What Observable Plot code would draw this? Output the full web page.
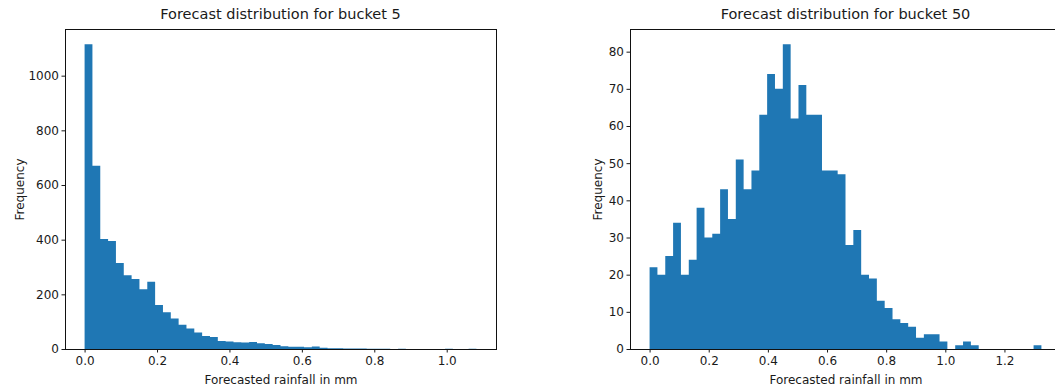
<!DOCTYPE html>
<html>
<head>
<meta charset="utf-8">
<script src="https://cdn.jsdelivr.net/npm/d3@7"></script>
<script src="https://cdn.jsdelivr.net/npm/@observablehq/plot@0.6"></script>
<style>
  html, body { margin: 0; padding: 0; background: #fff; }
  #wrap { position: relative; width: 1055px; height: 388px; overflow: hidden; background: #fff;
          font-family: "DejaVu Sans", sans-serif; color: #1a1a1a; }
  .panel { position: absolute; top: 0; }
  .title { position: absolute; top: 6px; font-size: 14.5px; white-space: nowrap; transform: translateX(-50%); }
</style>
</head>
<body>
<div id="wrap"></div>
<script>
// ---- data ----
const binCount = 50;

const bucket5Title = "Forecast distribution for bucket 5";
const bucket5Max = 1.082;
const bucket5Counts = [1115, 670, 402, 395, 315, 270, 256, 219, 246, 161,
                       134, 112, 89, 75, 60, 48, 44, 29, 27, 25,
                       24, 26, 21, 18, 15, 10, 8, 8, 6, 9,
                       5, 3, 3, 2, 2, 2, 1, 1, 1, 0,
                       1, 0, 0, 0, 0, 0, 1, 0, 0, 1];
const bucket5XTicks = [0, 0.2, 0.4, 0.6, 0.8, 1.0];
const bucket5YTicks = [0, 200, 400, 600, 800, 1000];

const bucket50Title = "Forecast distribution for bucket 50";
const bucket50Max = 1.325;
const bucket50Counts = [22, 20, 25, 34, 20, 24, 38, 30, 31, 43,
                        35, 51, 43, 48, 63, 74, 70, 82, 62, 71,
                        63, 63, 48, 48, 47, 28, 32, 20, 19, 13,
                        11, 8, 7, 6, 3, 4, 4, 2, 0, 1,
                        2, 1, 0, 0, 0, 0, 0, 0, 0, 1];
const bucket50XTicks = [0, 0.2, 0.4, 0.6, 0.8, 1.0, 1.2];
const bucket50YTicks = [0, 10, 20, 30, 40, 50, 60, 70, 80];

const xLabel = "Forecasted rainfall in mm";
const yLabel = "Frequency";
const barColor = "#1f77b4";

// bin left edges with counts, plus the closing right edge, for a stepped histogram shape
function makeSteps(counts, max) {
  const w = max / counts.length;
  const pts = counts.map((c, i) => ({x: i * w, count: c}));
  pts.push({x: max, count: counts[counts.length - 1]});
  return pts;
}

function histogram({counts, max, xTicks, yTicks, width, marginLeft, marginRight, yLabelOffset}) {
  const steps = makeSteps(counts, max);
  const ymax = d3.max(counts) * 1.05;
  const pad = max * 0.05;
  return Plot.plot({
    width, height: 388,
    marginTop: 29, marginBottom: 39, marginLeft, marginRight,
    style: {fontFamily: "DejaVu Sans, sans-serif", fontSize: "12px", color: "#1a1a1a", background: "transparent", overflow: "visible"},
    x: {domain: [-pad, max + pad]},
    y: {domain: [0, ymax]},
    marks: [
      Plot.areaY(steps, {x: "x", y1: 0, y2: "count", curve: "step-after", fill: barColor, fillOpacity: 1}),
      Plot.axisX({ticks: xTicks, tickFormat: d3.format(".1f"), tickSize: 3.5, tickPadding: 3,
                  label: xLabel, labelAnchor: "center", labelArrow: "none", labelOffset: 34, fontSize: 12}),
      Plot.axisY({ticks: yTicks, tickFormat: d3.format("d"), tickSize: 3.5, tickPadding: 3,
                  label: yLabel, labelAnchor: "center", labelArrow: "none", labelOffset: yLabelOffset, fontSize: 12}),
      Plot.frame({stroke: "#111", strokeWidth: 1})
    ]
  });
}

const wrap = document.getElementById("wrap");

const left = histogram({counts: bucket5Counts, max: bucket5Max, xTicks: bucket5XTicks, yTicks: bucket5YTicks,
  width: 530, marginLeft: 65, marginRight: 34, yLabelOffset: 50});
left.classList.add("panel");
left.style.left = "0px";
wrap.appendChild(left);

const right = histogram({counts: bucket50Counts, max: bucket50Max, xTicks: bucket50XTicks, yTicks: bucket50YTicks,
  width: 501, marginLeft: 70, marginRight: 0, yLabelOffset: 37});
right.classList.add("panel");
right.style.left = "560px";
wrap.appendChild(right);

function addTitle(text, cx) {
  const t = document.createElement("div");
  t.className = "title";
  t.textContent = text;
  t.style.left = cx + "px";
  wrap.appendChild(t);
}
addTitle(bucket5Title, 280.5);
addTitle(bucket50Title, 845.5);
</script>
</body>
</html>
